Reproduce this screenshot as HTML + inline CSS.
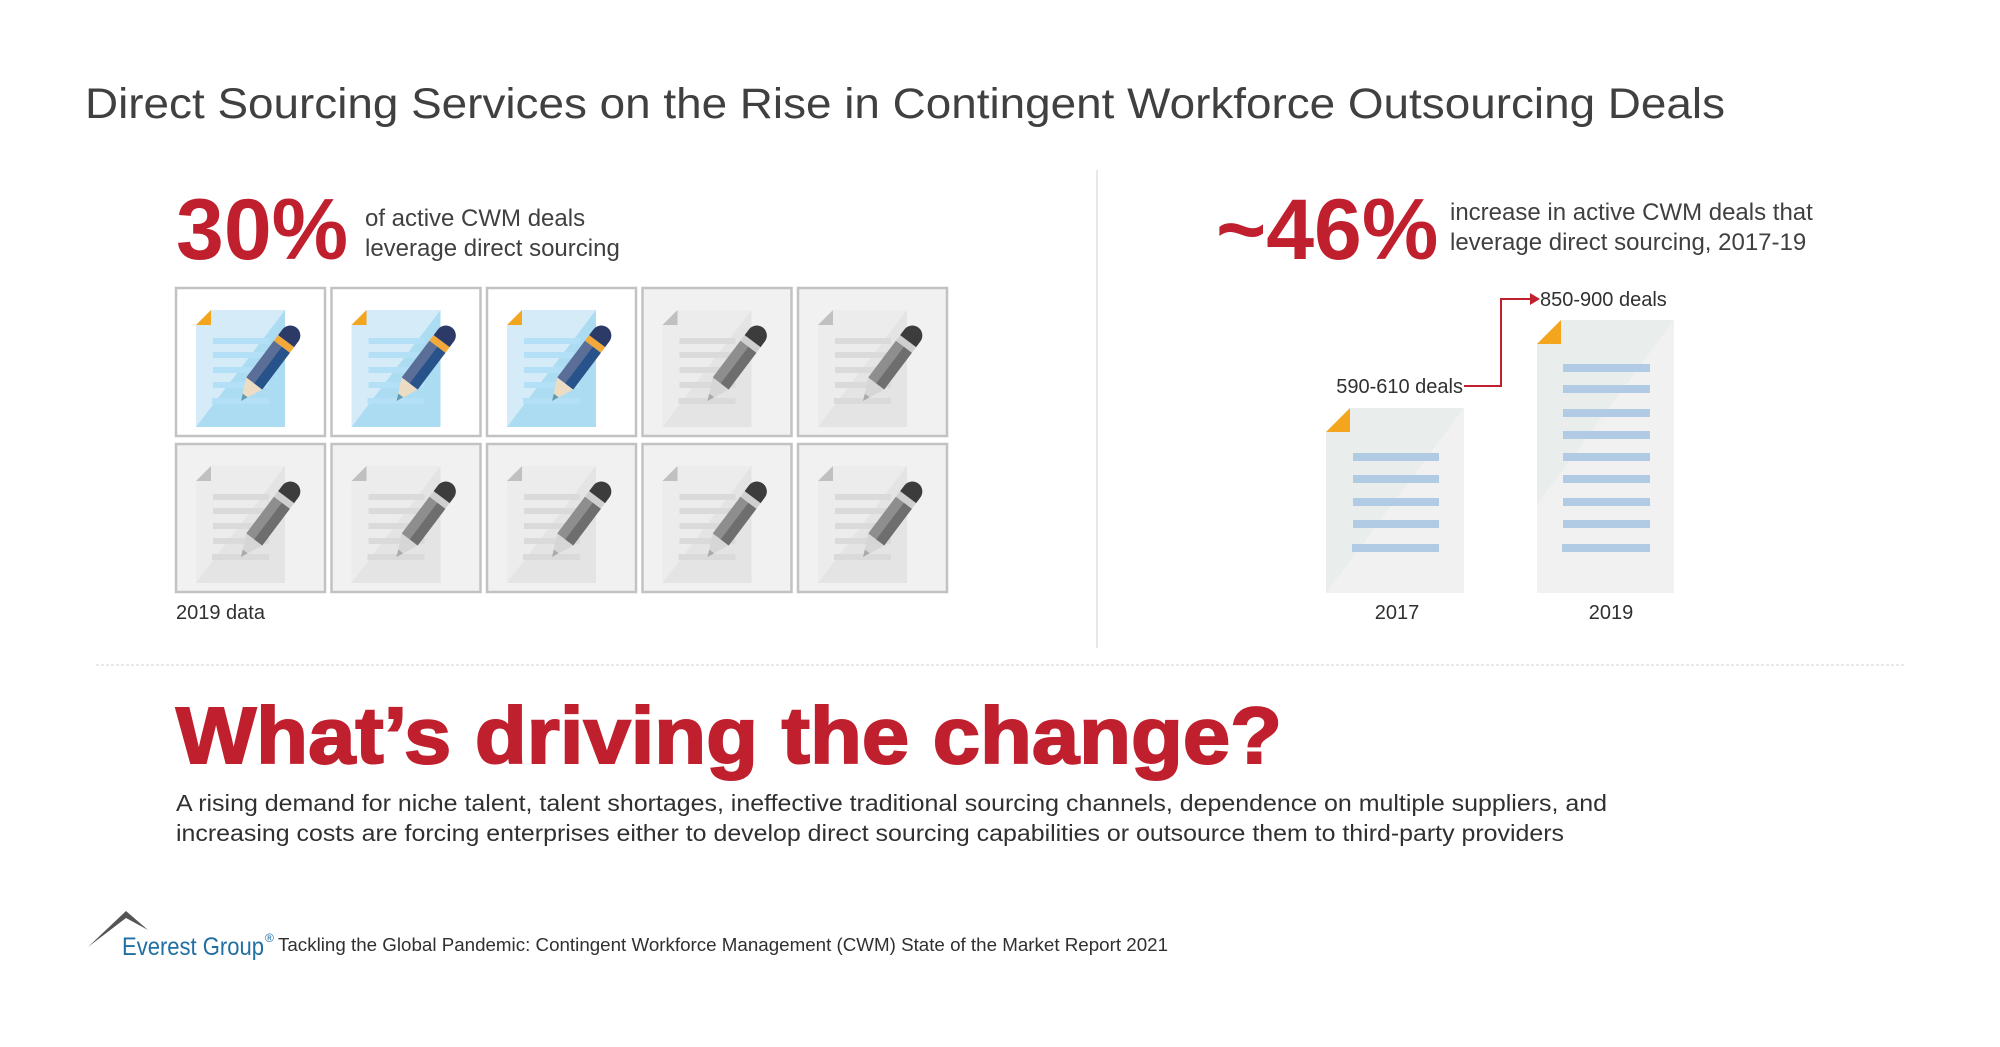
<!DOCTYPE html>
<html><head><meta charset="utf-8"><style>
html,body{margin:0;padding:0;background:#fff;width:2000px;height:1047px;overflow:hidden}
svg{display:block}
text{font-family:"Liberation Sans",Arial,sans-serif}
</style></head><body>
<svg width="2000" height="1047" viewBox="0 0 2000 1047" xmlns="http://www.w3.org/2000/svg">
<defs>
<g id="cdoc">
<rect x="0" y="0" width="149" height="148" fill="#fff" stroke="#c2c2c2" stroke-width="2.5"/>
<polygon points="35,22 109,22 109,139 20,139 20,37" fill="#d5ecf8"/>
<polygon points="109,22 109,139 20,139" fill="#acdcf2"/>
<polygon points="35,22 20,37 35,37" fill="#f3a51e"/>
<g fill="#b3e0f7"><rect x="37" y="50" width="56" height="6"/><rect x="37" y="64" width="56" height="6"/><rect x="37" y="79" width="56" height="6"/><rect x="37" y="94" width="56" height="6"/><rect x="36" y="110" width="57" height="6"/></g>
<g transform="translate(65,113) rotate(-53)">
<polygon points="0,0 22,-10 22,10" fill="#ecdcc3"/><polygon points="0,0 7,-3 7,3" fill="#5f9bb5"/>
<rect x="22" y="-10" width="46" height="20" fill="#5b6e97"/><rect x="22" y="0" width="46" height="10" fill="#27538a"/>
<rect x="68" y="-10" width="7" height="20" fill="#f3a939"/>
<path d="M75,-10 H82 A10,10 0 0 1 82,10 H75 Z" fill="#2b3a66"/>
</g></g>
<g id="gdoc">
<rect x="0" y="0" width="149" height="148" fill="#f1f1f1" stroke="#c2c2c2" stroke-width="2.5"/>
<polygon points="35,22 109,22 109,139 20,139 20,37" fill="#ececec"/>
<polygon points="109,22 109,139 20,139" fill="#e4e4e4"/>
<polygon points="35,22 20,37 35,37" fill="#c0c0c0"/>
<g fill="#dadada"><rect x="37" y="50" width="56" height="6"/><rect x="37" y="64" width="56" height="6"/><rect x="37" y="79" width="56" height="6"/><rect x="37" y="94" width="56" height="6"/><rect x="36" y="110" width="57" height="6"/></g>
<g transform="translate(65,113) rotate(-53)">
<polygon points="0,0 22,-10 22,10" fill="#d6d6d6"/><polygon points="0,0 7,-3 7,3" fill="#aaa"/>
<rect x="22" y="-10" width="46" height="20" fill="#8e8e8e"/><rect x="22" y="0" width="46" height="10" fill="#6e6e6e"/>
<rect x="68" y="-10" width="7" height="20" fill="#cfcfcf"/>
<path d="M75,-10 H82 A10,10 0 0 1 82,10 H75 Z" fill="#3c3c3c"/>
</g></g>
</defs>

<text x="85" y="118" font-size="43" fill="#404040" textLength="1640" lengthAdjust="spacingAndGlyphs">Direct Sourcing Services on the Rise in Contingent Workforce Outsourcing Deals</text>

<text x="176" y="259" font-size="86" font-weight="bold" fill="#c0202e">30%</text>
<text x="365" y="226" font-size="24" fill="#404040">of active CWM deals</text>
<text x="365" y="256" font-size="24" fill="#404040">leverage direct sourcing</text>

<use href="#cdoc" x="176" y="288"/><use href="#cdoc" x="331.5" y="288"/><use href="#cdoc" x="487" y="288"/>
<use href="#gdoc" x="642.5" y="288"/><use href="#gdoc" x="798" y="288"/>
<use href="#gdoc" x="176" y="444"/><use href="#gdoc" x="331.5" y="444"/><use href="#gdoc" x="487" y="444"/>
<use href="#gdoc" x="642.5" y="444"/><use href="#gdoc" x="798" y="444"/>
<text x="176" y="619" font-size="20" fill="#303030">2019 data</text>

<line x1="1097" y1="170" x2="1097" y2="648" stroke="#e0e0e0" stroke-width="1.5"/>

<text x="1216" y="259" font-size="86" font-weight="bold" fill="#c0202e">~46%</text>
<text x="1450" y="220" font-size="24" fill="#404040">increase in active CWM deals that</text>
<text x="1450" y="250" font-size="24" fill="#404040">leverage direct sourcing, 2017-19</text>

<polygon points="1350,408 1464,408 1464,593 1326,593 1326,432" fill="#f1f1f1"/>
<polygon points="1350,408 1464,408 1326,593 1326,432" fill="#e9eeec"/>
<polygon points="1350,408 1326,432 1350,432" fill="#f3a51e"/>
<g fill="#b1cbe4"><rect x="1353" y="453" width="86" height="8"/><rect x="1353" y="475" width="86" height="8"/><rect x="1353" y="498" width="86" height="8"/><rect x="1353" y="520" width="86" height="8"/><rect x="1352" y="544" width="87" height="8"/></g>
<polygon points="1561,320 1674,320 1674,593 1537,593 1537,344" fill="#f1f1f1"/>
<polygon points="1561,320 1674,320 1537,505 1537,344" fill="#e9eeec"/>
<polygon points="1561,320 1537,344 1561,344" fill="#f3a51e"/>
<g fill="#b1cbe4"><rect x="1563" y="364" width="87" height="8"/><rect x="1563" y="385" width="87" height="8"/><rect x="1563" y="409" width="87" height="8"/><rect x="1563" y="431" width="87" height="8"/><rect x="1563" y="453" width="87" height="8"/><rect x="1563" y="475" width="87" height="8"/><rect x="1563" y="498" width="87" height="8"/><rect x="1563" y="520" width="87" height="8"/><rect x="1562" y="544" width="88" height="8"/></g>

<text x="1463" y="393" font-size="20" fill="#303030" text-anchor="end">590-610 deals</text>
<polyline points="1464,386 1501,386 1501,299 1530,299" fill="none" stroke="#c0202e" stroke-width="2"/>
<polygon points="1530,293 1540,299 1530,305" fill="#c0202e"/>
<text x="1540" y="306" font-size="20" fill="#303030">850-900 deals</text>
<text x="1397" y="619" font-size="20" fill="#303030" text-anchor="middle">2017</text>
<text x="1611" y="619" font-size="20" fill="#303030" text-anchor="middle">2019</text>

<line x1="96" y1="665" x2="1904" y2="665" stroke="#e2e2e2" stroke-width="1.5" stroke-dasharray="3,2"/>

<text x="176" y="763" font-size="80" font-weight="900" fill="#c0202e" textLength="1106" lengthAdjust="spacingAndGlyphs" stroke="#c0202e" stroke-width="2">What’s driving the change?</text>
<text x="176" y="811" font-size="23" fill="#303030" textLength="1431" lengthAdjust="spacingAndGlyphs">A rising demand for niche talent, talent shortages, ineffective traditional sourcing channels, dependence on multiple suppliers, and</text>
<text x="176" y="841" font-size="23" fill="#303030" textLength="1388" lengthAdjust="spacingAndGlyphs">increasing costs are forcing enterprises either to develop direct sourcing capabilities or outsource them to third-party providers</text>

<polygon points="88,947 126,911 148,930 126,918" fill="#555"/>
<text x="122" y="955" font-size="25" fill="#1f6fa3" textLength="142" lengthAdjust="spacingAndGlyphs">Everest Group</text>
<text x="265" y="942" font-size="12" fill="#1f6fa3">®</text>
<text x="278" y="951" font-size="18.5" fill="#303030" textLength="890" lengthAdjust="spacingAndGlyphs">Tackling the Global Pandemic: Contingent Workforce Management (CWM) State of the Market Report 2021</text>
</svg>
</body></html>
